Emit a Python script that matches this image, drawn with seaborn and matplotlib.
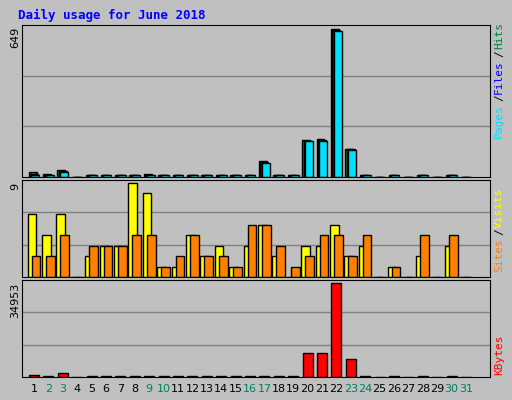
import numpy as np
import pandas as pd
import matplotlib
matplotlib.use('Agg')
import matplotlib.pyplot as plt
import seaborn as sns

days = list(range(1, 32))
weekends = [2, 3, 9, 10, 16, 17, 23, 24, 30, 31]

hits  = [20, 12, 30, 0, 6, 5, 3, 10, 12, 3, 3, 5, 3, 5, 3, 6, 70, 3, 3, 163, 168, 649, 124, 6, 0, 3, 0, 3, 0, 3, 0]
files = [14, 8, 26, 0, 3, 3, 2, 10, 8, 2, 2, 3, 2, 3, 2, 3, 68, 2, 2, 160, 162, 645, 122, 3, 0, 2, 0, 2, 0, 2, 0]
pages = [10, 3, 22, 0, 2, 2, 2, 8, 6, 2, 2, 2, 2, 2, 2, 2, 62, 2, 2, 158, 160, 640, 120, 2, 0, 2, 0, 2, 0, 2, 0]
visits = [6, 4, 6, 0, 2, 3, 3, 9, 8, 1, 1, 4, 2, 3, 1, 3, 5, 2, 0, 3, 3, 5, 2, 3, 0, 1, 0, 2, 0, 3, 0]
sites  = [2, 2, 4, 0, 3, 3, 3, 4, 4, 1, 2, 4, 2, 2, 1, 5, 5, 3, 1, 2, 4, 4, 2, 4, 0, 1, 0, 4, 0, 4, 0]
kbytes = [900, 300, 1500, 0, 200, 200, 200, 200, 200, 200, 200, 200, 200, 200, 200, 200, 300, 200, 200,
          8800, 8800, 34953, 6500, 300, 0, 200, 0, 200, 0, 200, 0]

GREY = '#C0C0C0'
W, H = 512, 400
fig = plt.figure(figsize=(W / 100, H / 100), dpi=100, facecolor=GREY)

def px_axes(x0, y0, x1, y1):
    return fig.add_axes([x0 / W, 1 - y1 / H, (x1 - x0) / W, (y1 - y0) / H])

def draw(ax, series, ymax, width, offset):
    n = len(series)
    for i, (vals, col) in enumerate(series):
        df = pd.DataFrame({'day': days, 'v': vals})
        before = len(ax.patches)
        sns.barplot(data=df, x='day', y='v', color=col, width=width, ax=ax,
                    edgecolor='black', linewidth=1, saturation=1)
        shift = (i - (n - 1) / 2) * offset
        for p in ax.patches[before:]:
            p.set_x(p.get_x() + shift)
            if p.get_height() > 0:
                p.set_height(max(p.get_height(), ymax * 0.012))
    ax.set_facecolor(GREY)
    ax.set_xlim(-0.833, 31.67)
    ax.set_ylim(0, ymax * 1.03)
    for k in (1, 2):
        ax.axhline(ymax * 1.03 * k / 3, color='#808080', lw=1, zorder=0)
    ax.set_xticks([]); ax.set_yticks([])
    ax.set_xlabel(''); ax.set_ylabel('')
    for s in ax.spines.values():
        s.set_color('black')

ax1 = px_axes(22, 25, 490, 177)
draw(ax1, [(hits, '#008040'), (files, '#0000FF'), (pages, '#00E0FF')], 649, 0.55, 0.1)
ax2 = px_axes(22, 180, 490, 277)
draw(ax2, [(visits, '#FFFF00'), (sites, '#FF8000')], 9, 0.6, 0.28)
ax3 = px_axes(22, 280, 490, 377)
draw(ax3, [(kbytes, '#FF0000')], 34953, 0.7, 0)

fig.text(18 / W, 1 - 15 / H, 'Daily usage for June 2018', color='#0000FF', family='DejaVu Sans Mono',
         weight='bold', fontsize=9, va='center')
for ax, lab, y in [(ax1, '649', 37), (ax2, '9', 186), (ax3, '34953', 300)]:
    fig.text(15 / W, 1 - y / H, lab, rotation=90, fontsize=8, ha='center', va='center')

def right_label(parts, ybottom):
    # text reads bottom-to-top
    y = ybottom
    for txt, col in parts:
        fig.text(499 / W, 1 - y / H, txt, rotation=90, color=col, fontsize=8,
                 family='DejaVu Sans Mono', ha='center', va='bottom')
        y -= 7.4 * len(txt)

right_label([('Pages', '#00E0FF'), ('/', 'black'), ('Files', '#0000FF'), ('/', 'black'), ('Hits', '#008040')], 138)
right_label([('Sites', '#FF8000'), ('/', 'black'), ('Visits', '#FFFF00')], 272)
right_label([('KBytes', '#FF0000')], 375)

for d in days:
    x = (22 + 12 + (d - 1) * 14.4) / W
    fig.text(x, 1 - 389 / H, str(d), ha='center', va='center', fontsize=8,
             color='#008060' if d in weekends else 'black')

fig.savefig('out.png', dpi=100, facecolor=GREY)
